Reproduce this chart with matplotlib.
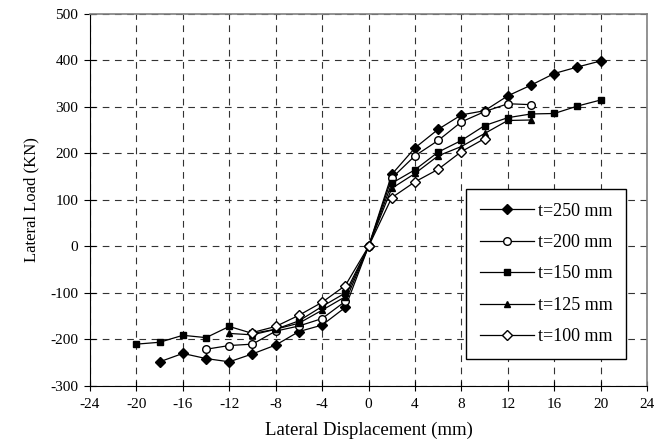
import matplotlib.pyplot as plt
import numpy as np

plt.rcParams['font.family'] = ['Liberation Serif', 'DejaVu Serif']
plt.rcParams['axes.unicode_minus'] = False

# data (mm, kN)
x250 = [-18, -16, -14, -12, -10, -8, -6, -4, -2, 0, 2, 4, 6, 8, 10, 12, 14, 16, 18, 20]
y250 = [-248, -230, -241, -248, -231, -212, -183, -169, -131, 0,
        155, 212, 252, 283, 292, 324, 347, 372, 386, 399]

x200 = [-14, -12, -10, -8, -6, -4, -2, 0, 2, 4, 6, 8, 10, 12, 14]
y200 = [-221, -213, -210, -182, -171, -155, -118, 0, 147, 195, 228, 268, 290, 307, 305]

x150 = [-20, -18, -16, -14, -12, -10, -8, -6, -4, -2, 0, 2, 4, 6, 8, 10, 12, 14, 16, 18, 20]
y150 = [-210, -206, -191, -196, -172, -187, -178, -160, -129, -100, 0,
        136, 165, 203, 228, 260, 277, 285, 286, 302, 315]

x125 = [-12, -10, -8, -6, -4, -2, 0, 2, 4, 6, 8, 10, 12, 14]
y125 = [-187, -190, -178, -165, -137, -108, 0, 125, 157, 195, 215, 243, 271, 272]

x100 = [-10, -8, -6, -4, -2, 0, 2, 4, 6, 8, 10]
y100 = [-185, -172, -148, -120, -84, 0, 105, 139, 166, 204, 232]

labels = ['t=250 mm', 't=200 mm', 't=150 mm', 't=125 mm', 't=100 mm']
xticks = np.arange(-24, 25, 4)
yticks = np.arange(-300, 501, 100)

fig = plt.figure(figsize=(6.68, 4.47), dpi=100)
ax = fig.add_axes([0.1347, 0.1365, 0.834, 0.8322])

ax.plot(x250, y250, '-', color='black', lw=0.9, marker='D', ms=5, mfc='black', mec='black', label=labels[0])
ax.plot(x200, y200, '-', color='black', lw=0.9, marker='o', ms=5.5, mfc='white', mec='black', label=labels[1])
ax.plot(x150, y150, '-', color='black', lw=0.9, marker='s', ms=4, mfc='black', mec='black', label=labels[2])
ax.plot(x125, y125, '-', color='black', lw=0.9, marker='^', ms=5, mfc='black', mec='black', label=labels[3])
ax.plot(x100, y100, '-', color='black', lw=0.9, marker='D', ms=5, mfc='white', mec='black', label=labels[4])

ax.set_xlim(-24, 24)
ax.set_ylim(-300, 500)
ax.set_xticks(xticks)
ax.set_yticks(yticks)
ax.grid(True, color='#333333', linestyle=(0, (6, 5)), linewidth=0.8)
ax.set_axisbelow(True)

ax.spines['top'].set_color('#808080')
ax.spines['right'].set_color('#808080')
ax.spines['top'].set_linewidth(1.2)
ax.spines['right'].set_linewidth(1.2)
ax.tick_params(axis='x', direction='inout', length=7, labelsize=11, pad=5)
ax.tick_params(axis='y', direction='inout', length=9, labelsize=11, pad=4)

ax.set_xlabel('Lateral Displacement (mm)', fontsize=13.5, labelpad=8)
ax.set_ylabel('Lateral Load (KN)', fontsize=12, labelpad=8)

leg = ax.legend(loc='lower right', bbox_to_anchor=(0.962, 0.073), borderaxespad=0,
                fontsize=13, fancybox=False, edgecolor='black', framealpha=1,
                labelspacing=0.8, handlelength=3.0, handletextpad=0.2,
                borderpad=0.75)
leg.get_frame().set_linewidth(1.0)

fig.savefig('out.png', dpi=100)
